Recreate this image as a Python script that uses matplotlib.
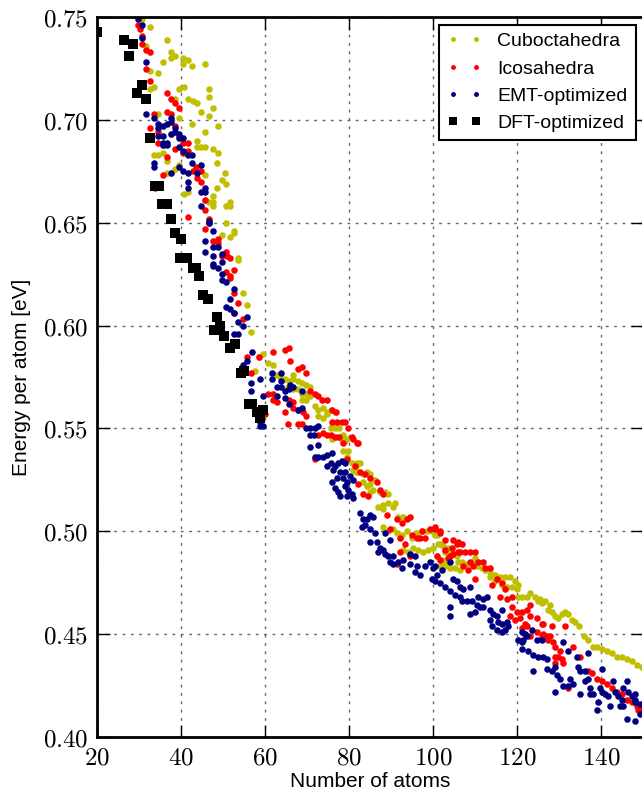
import numpy as np
import matplotlib
matplotlib.use("Agg")
import matplotlib.pyplot as plt

plt.rcParams["mathtext.fontset"] = "cm"
plt.rcParams["font.family"] = ["Liberation Sans", "DejaVu Sans"]

# (number of atoms, energy per atom in eV)
cubo = [
    (30.7, 0.749), (32.6, 0.745), (36.7, 0.739), (31.7, 0.736), (37.6, 0.733), (37.6, 0.730),
    (38.6, 0.731), (40.5, 0.730), (41.7, 0.729), (40.5, 0.727), (42.6, 0.726), (45.7, 0.727),
    (35.7, 0.728), (34.5, 0.723), (32.6, 0.724), (33.6, 0.716), (32.6, 0.715), (39.5, 0.715),
    (40.7, 0.716), (46.7, 0.715), (38.6, 0.710), (41.7, 0.710), (42.9, 0.709), (43.8, 0.708),
    (46.7, 0.711), (44.8, 0.704), (47.6, 0.706), (46.7, 0.702), (39.5, 0.701), (34.5, 0.703),
    (42.6, 0.698), (48.8, 0.697), (37.6, 0.693), (43.8, 0.690), (45.7, 0.694), (43.8, 0.687),
    (44.8, 0.687), (45.7, 0.687), (47.6, 0.686), (48.8, 0.684), (33.6, 0.683), (34.5, 0.683),
    (35.7, 0.684), (39.5, 0.678), (36.7, 0.680), (37.6, 0.674), (36.7, 0.674), (38.6, 0.676),
    (45.7, 0.673), (48.6, 0.679), (50.5, 0.674), (49.8, 0.671), (50.7, 0.669), (48.6, 0.667),
    (51.7, 0.660), (51.7, 0.658), (50.7, 0.658), (47.6, 0.660), (46.7, 0.660), (45.7, 0.661),
    (47.6, 0.658), (50.7, 0.650), (52.6, 0.646), (52.6, 0.645), (49.8, 0.644), (51.7, 0.643),
    (40.7, 0.664), (41.7, 0.665), (47.6, 0.663), (53.6, 0.633), (53.6, 0.632), (54.8, 0.616),
    (55.7, 0.610), (56.7, 0.597), (58.6, 0.585), (59.5, 0.586), (60.7, 0.582), (61.9, 0.581),
    (57.6, 0.578), (62.9, 0.576), (63.6, 0.575), (64.8, 0.574), (65.7, 0.573), (66.7, 0.576),
    (66.7, 0.574), (67.9, 0.573), (68.8, 0.572), (69.8, 0.571), (70.7, 0.570), (65.5, 0.570),
    (66.7, 0.569), (67.9, 0.569), (68.8, 0.567), (69.8, 0.567), (70.7, 0.566), (68.8, 0.564),
    (69.8, 0.564), (71.9, 0.561), (72.6, 0.559), (73.8, 0.560), (74.8, 0.558), (75.7, 0.559),
    (76.7, 0.558), (72.6, 0.556), (73.8, 0.555), (74.8, 0.557), (75.7, 0.550), (76.7, 0.550),
    (77.6, 0.550), (78.6, 0.547), (79.5, 0.545), (78.6, 0.544), (79.8, 0.539), (79.5, 0.536),
    (80.7, 0.533), (81.7, 0.532), (81.7, 0.529), (76.0, 0.551), (76.7, 0.552), (77.1, 0.546),
    (78.3, 0.545), (79.0, 0.544), (76.0, 0.545), (78.6, 0.539), (81.9, 0.533), (82.6, 0.533),
    (81.0, 0.530), (82.1, 0.529), (83.3, 0.528), (84.3, 0.529), (85.0, 0.528), (83.3, 0.524),
    (84.3, 0.522), (85.0, 0.523), (85.7, 0.520), (86.2, 0.525), (87.4, 0.519), (88.6, 0.519),
    (89.3, 0.518), (85.0, 0.519), (88.1, 0.513), (89.3, 0.514), (90.5, 0.512), (91.0, 0.514),
    (86.9, 0.512), (88.1, 0.511), (91.7, 0.507), (92.9, 0.507), (88.1, 0.502), (89.3, 0.500),
    (90.5, 0.501), (91.4, 0.499), (92.6, 0.498), (93.8, 0.500), (95.0, 0.497), (96.2, 0.499),
    (97.4, 0.500), (98.6, 0.500), (99.8, 0.500), (101.0, 0.498), (95.2, 0.492), (96.4, 0.491),
    (97.6, 0.490), (98.8, 0.491), (100.0, 0.492), (101.2, 0.494), (92.9, 0.491), (94.0, 0.490),
    (102.4, 0.493), (103.6, 0.492), (102.1, 0.486), (102.9, 0.485), (104.0, 0.488), (105.2, 0.489),
    (106.0, 0.485), (101.7, 0.483), (102.9, 0.483), (100.5, 0.498), (101.7, 0.494), (102.9, 0.490),
    (103.6, 0.489), (104.5, 0.490), (101.0, 0.488), (103.3, 0.485), (105.7, 0.488), (106.9, 0.485),
    (108.1, 0.484), (109.3, 0.485), (110.0, 0.487), (104.0, 0.482), (105.2, 0.482), (106.4, 0.481),
    (110.5, 0.483), (111.7, 0.482), (112.4, 0.481), (113.6, 0.480), (114.8, 0.479), (115.2, 0.478),
    (116.0, 0.478), (117.1, 0.478), (118.3, 0.478), (119.5, 0.476), (120.2, 0.474), (113.6, 0.478),
    (114.8, 0.476), (116.4, 0.474), (117.6, 0.473), (118.8, 0.473), (120.0, 0.472), (121.2, 0.468),
    (122.4, 0.468), (123.1, 0.470), (124.3, 0.468), (125.5, 0.467), (126.7, 0.466), (127.9, 0.464),
    (129.0, 0.459), (129.8, 0.458), (120.2, 0.468), (125.0, 0.466), (126.0, 0.465), (127.4, 0.462),
    (128.3, 0.461), (130.7, 0.460), (131.4, 0.461), (132.1, 0.460), (133.1, 0.457), (133.8, 0.456),
    (134.8, 0.454), (136.0, 0.449), (136.9, 0.447), (138.1, 0.444), (139.0, 0.444), (140.2, 0.443),
    (141.4, 0.442), (142.6, 0.441), (143.8, 0.439), (145.0, 0.439), (146.2, 0.438), (147.4, 0.437),
    (148.6, 0.435), (149.8, 0.434),
]

ico = [
    (29.8, 0.746), (30.2, 0.744), (30.7, 0.741), (30.7, 0.737), (31.7, 0.734), (32.6, 0.733),
    (31.7, 0.725), (32.6, 0.719), (36.7, 0.713), (37.6, 0.710), (38.6, 0.708), (39.5, 0.706),
    (36.7, 0.704), (37.6, 0.703), (33.6, 0.703), (32.6, 0.696), (34.5, 0.694), (38.6, 0.697),
    (39.5, 0.692), (40.5, 0.689), (41.7, 0.689), (34.5, 0.689), (35.7, 0.688), (38.6, 0.686),
    (41.7, 0.685), (40.5, 0.684), (36.7, 0.682), (43.6, 0.677), (35.7, 0.673), (42.9, 0.675),
    (44.8, 0.675), (43.8, 0.672), (44.8, 0.670), (33.8, 0.667), (41.7, 0.653), (45.7, 0.661),
    (45.7, 0.656), (46.7, 0.652), (46.7, 0.650), (45.7, 0.647), (47.6, 0.641), (48.8, 0.642),
    (48.8, 0.640), (50.7, 0.636), (51.0, 0.634), (49.8, 0.634), (51.7, 0.633), (52.6, 0.627),
    (50.7, 0.626), (51.7, 0.624), (51.7, 0.623), (52.6, 0.616), (53.6, 0.611), (52.6, 0.606),
    (54.8, 0.603), (55.7, 0.585), (56.7, 0.577), (58.6, 0.585), (61.9, 0.587), (64.8, 0.588),
    (65.7, 0.589), (66.0, 0.583), (67.9, 0.579), (68.8, 0.580), (69.8, 0.577), (60.7, 0.567),
    (61.9, 0.567), (61.9, 0.564), (62.9, 0.563), (65.7, 0.564), (66.7, 0.563), (66.7, 0.560),
    (64.8, 0.558), (67.9, 0.559), (69.0, 0.558), (69.8, 0.556), (65.5, 0.552), (67.9, 0.552),
    (68.8, 0.552), (59.5, 0.559), (60.0, 0.557), (70.7, 0.568), (71.9, 0.567), (72.6, 0.566),
    (73.6, 0.564), (74.8, 0.564), (76.0, 0.559), (76.9, 0.558), (72.6, 0.547), (73.8, 0.548),
    (74.8, 0.547), (75.7, 0.547), (76.7, 0.546), (77.6, 0.546), (78.6, 0.543), (81.0, 0.545),
    (82.1, 0.543), (71.9, 0.535), (76.0, 0.553), (77.1, 0.553), (78.3, 0.553), (79.0, 0.553),
    (79.8, 0.550), (80.7, 0.546), (81.9, 0.543), (79.5, 0.535), (81.4, 0.532), (82.6, 0.529),
    (83.8, 0.528), (85.0, 0.526), (82.1, 0.523), (83.3, 0.518), (84.5, 0.517), (86.7, 0.524),
    (87.4, 0.520), (88.1, 0.518), (89.0, 0.508), (91.4, 0.506), (92.6, 0.504), (93.8, 0.506),
    (94.5, 0.507), (89.8, 0.501), (92.1, 0.497), (93.3, 0.494), (95.0, 0.498), (96.2, 0.497),
    (96.9, 0.497), (98.1, 0.497), (99.3, 0.501), (100.5, 0.501), (97.4, 0.500), (101.7, 0.500),
    (102.9, 0.496), (92.1, 0.490), (94.5, 0.488), (91.4, 0.484), (101.0, 0.488), (101.7, 0.486),
    (103.6, 0.487), (104.8, 0.489), (106.0, 0.490), (105.7, 0.494), (104.5, 0.492), (100.5, 0.502),
    (101.7, 0.499), (104.8, 0.496), (106.0, 0.495), (106.9, 0.494), (102.9, 0.491), (104.0, 0.488),
    (106.4, 0.490), (107.6, 0.490), (108.8, 0.490), (110.0, 0.490), (108.8, 0.485), (109.5, 0.483),
    (110.7, 0.485), (111.9, 0.485), (107.1, 0.483), (108.3, 0.481), (112.4, 0.482), (113.6, 0.482),
    (110.0, 0.477), (114.0, 0.474), (115.2, 0.477), (116.4, 0.475), (117.1, 0.472), (116.0, 0.468),
    (117.6, 0.467), (118.8, 0.468), (118.8, 0.463), (120.0, 0.461), (121.2, 0.461), (122.4, 0.462),
    (123.1, 0.464), (118.3, 0.459), (119.5, 0.457), (120.7, 0.458), (123.1, 0.459), (124.8, 0.458),
    (126.2, 0.455), (122.4, 0.454), (121.9, 0.450), (124.8, 0.451), (126.0, 0.449), (127.1, 0.449),
    (127.4, 0.447), (128.6, 0.446), (121.9, 0.455), (121.2, 0.453), (123.1, 0.449), (126.0, 0.455),
    (128.3, 0.454), (131.4, 0.454), (126.2, 0.450), (127.9, 0.449), (129.0, 0.444), (130.2, 0.442),
    (133.3, 0.444), (129.0, 0.439), (129.8, 0.439), (130.7, 0.438), (131.0, 0.436), (129.0, 0.436),
    (135.0, 0.439), (136.9, 0.432), (137.9, 0.431), (132.1, 0.424), (139.0, 0.428), (140.2, 0.427),
    (141.4, 0.426), (142.6, 0.424), (143.8, 0.422), (145.0, 0.421), (146.2, 0.418), (147.4, 0.417),
    (148.6, 0.415), (149.8, 0.414), (148.8, 0.413),
]

emt = [
    (29.8, 0.749), (30.7, 0.746), (30.7, 0.740), (31.7, 0.728), (31.7, 0.703), (33.6, 0.701),
    (37.6, 0.701), (37.6, 0.699), (34.5, 0.698), (35.7, 0.697), (36.7, 0.698), (34.5, 0.696),
    (34.5, 0.692), (35.7, 0.692), (35.7, 0.689), (36.7, 0.689), (37.6, 0.693), (38.6, 0.694),
    (38.6, 0.696), (39.5, 0.693), (35.7, 0.688), (36.7, 0.688), (39.5, 0.691), (40.5, 0.691),
    (39.5, 0.687), (40.5, 0.685), (41.7, 0.683), (33.6, 0.679), (33.6, 0.677), (37.6, 0.674),
    (39.5, 0.677), (40.5, 0.675), (41.7, 0.674), (42.6, 0.683), (42.6, 0.679), (44.8, 0.678),
    (43.8, 0.674), (41.7, 0.670), (41.7, 0.667), (44.8, 0.665), (45.7, 0.665), (45.7, 0.667),
    (44.8, 0.658), (46.7, 0.651), (46.7, 0.650), (47.6, 0.646), (45.7, 0.641), (47.6, 0.638),
    (48.8, 0.638), (45.7, 0.636), (47.6, 0.634), (49.8, 0.635), (47.6, 0.630), (47.6, 0.629),
    (48.8, 0.628), (49.8, 0.631), (49.8, 0.625), (50.7, 0.621), (49.8, 0.622), (52.6, 0.618),
    (51.7, 0.613), (50.7, 0.609), (51.7, 0.608), (52.6, 0.606), (53.6, 0.602), (55.7, 0.604),
    (54.8, 0.600), (53.6, 0.596), (52.6, 0.596), (55.7, 0.583), (54.8, 0.581), (56.9, 0.587),
    (56.7, 0.572), (56.7, 0.568), (58.8, 0.574), (59.5, 0.566), (58.8, 0.553), (59.5, 0.551),
    (58.8, 0.551), (61.7, 0.577), (61.7, 0.574), (62.9, 0.570), (63.8, 0.577), (63.8, 0.573),
    (63.8, 0.570), (64.8, 0.568), (62.9, 0.566), (64.8, 0.565), (65.7, 0.569), (66.0, 0.571),
    (66.7, 0.570), (67.9, 0.559), (68.8, 0.560), (65.7, 0.562), (68.8, 0.568), (69.8, 0.550),
    (70.7, 0.550), (71.9, 0.550), (70.7, 0.547), (71.7, 0.547), (72.6, 0.551), (70.7, 0.541),
    (72.6, 0.542), (72.6, 0.536), (73.8, 0.536), (74.8, 0.537), (71.9, 0.536), (74.8, 0.532),
    (75.7, 0.533), (76.7, 0.532), (77.9, 0.529), (79.0, 0.529), (77.1, 0.526), (76.0, 0.538),
    (77.4, 0.533), (78.3, 0.534), (79.0, 0.533), (76.2, 0.530), (76.0, 0.524), (76.7, 0.521),
    (77.4, 0.519), (78.6, 0.526), (79.5, 0.524), (80.2, 0.527), (81.0, 0.525), (79.0, 0.522),
    (79.8, 0.520), (80.7, 0.518), (77.9, 0.517), (79.5, 0.517), (81.0, 0.516), (82.6, 0.509),
    (83.3, 0.506), (84.3, 0.506), (85.0, 0.508), (85.7, 0.507), (83.1, 0.502), (83.8, 0.503),
    (85.0, 0.501), (86.2, 0.499), (85.0, 0.495), (86.7, 0.495), (87.4, 0.492), (88.1, 0.491),
    (88.6, 0.499), (89.8, 0.496), (86.9, 0.490), (88.6, 0.489), (89.3, 0.488), (90.5, 0.488),
    (89.8, 0.485), (90.5, 0.484), (91.7, 0.485), (92.9, 0.486), (92.6, 0.482), (94.5, 0.489),
    (95.7, 0.488), (94.5, 0.484), (96.2, 0.483), (95.7, 0.480), (96.9, 0.479), (98.1, 0.483),
    (99.3, 0.485), (100.5, 0.483), (102.1, 0.481), (104.0, 0.485), (100.0, 0.482), (101.0, 0.479),
    (99.8, 0.477), (100.5, 0.476), (101.7, 0.475), (102.9, 0.473), (104.0, 0.471), (104.8, 0.477),
    (105.7, 0.476), (106.4, 0.473), (107.1, 0.472), (108.8, 0.473), (105.2, 0.469), (106.4, 0.468),
    (106.9, 0.466), (108.1, 0.466), (109.3, 0.466), (110.7, 0.468), (111.9, 0.467), (112.9, 0.468),
    (104.0, 0.463), (104.0, 0.459), (110.5, 0.464), (111.2, 0.463), (111.9, 0.463), (108.8, 0.460),
    (110.0, 0.461), (113.6, 0.462), (114.3, 0.460), (115.2, 0.459), (116.4, 0.462), (115.5, 0.456),
    (116.4, 0.455), (113.6, 0.457), (114.0, 0.454), (115.2, 0.452), (116.4, 0.451), (117.1, 0.452),
    (117.6, 0.456), (117.9, 0.454), (120.2, 0.447), (121.2, 0.446), (122.4, 0.449), (123.6, 0.452),
    (124.8, 0.447), (126.0, 0.447), (121.2, 0.451), (121.9, 0.450), (121.4, 0.447), (121.2, 0.443),
    (122.6, 0.442), (123.8, 0.440), (125.0, 0.439), (126.2, 0.439), (127.1, 0.438), (123.8, 0.432),
    (127.1, 0.433), (128.3, 0.432), (129.0, 0.434), (129.5, 0.430), (130.2, 0.428), (131.0, 0.446),
    (132.1, 0.442), (131.0, 0.425), (132.1, 0.425), (132.6, 0.428), (133.3, 0.426), (129.0, 0.422),
    (134.3, 0.439), (134.5, 0.434), (135.0, 0.432), (136.2, 0.432), (135.0, 0.421), (136.2, 0.427),
    (136.9, 0.428), (137.4, 0.424), (138.1, 0.421), (137.4, 0.421), (136.9, 0.441), (140.2, 0.433),
    (139.8, 0.424), (140.2, 0.422), (139.3, 0.417), (139.0, 0.413), (140.9, 0.421), (141.7, 0.420),
    (142.1, 0.415), (142.9, 0.427), (143.3, 0.422), (144.0, 0.420), (145.0, 0.418), (146.2, 0.427),
    (145.2, 0.424), (146.4, 0.422), (147.4, 0.420), (144.5, 0.415), (145.2, 0.415), (148.1, 0.421),
    (148.1, 0.418), (148.1, 0.417), (149.3, 0.416), (146.2, 0.409), (148.1, 0.408), (149.3, 0.411),
]

dft = [
    (20.0, 0.743), (26.4, 0.739), (28.6, 0.737), (27.6, 0.731), (29.5, 0.713), (30.7, 0.717),
    (31.7, 0.710), (32.6, 0.691), (33.9, 0.668), (34.8, 0.668), (35.5, 0.659), (36.7, 0.659),
    (37.6, 0.652), (38.6, 0.645), (40.0, 0.642), (39.8, 0.633), (41.4, 0.633), (42.9, 0.628),
    (43.6, 0.628), (44.2, 0.624), (45.3, 0.615), (46.4, 0.613), (48.6, 0.604), (47.9, 0.598),
    (49.3, 0.600), (50.2, 0.595), (51.6, 0.589), (52.8, 0.591), (54.3, 0.577), (55.0, 0.578),
    (56.2, 0.562), (56.9, 0.562), (58.1, 0.558), (59.6, 0.559), (58.8, 0.555),
]

xticks = [20, 40, 60, 80, 100, 120, 140]
yticks = [0.40, 0.45, 0.50, 0.55, 0.60, 0.65, 0.70, 0.75]

fig = plt.figure(figsize=(6.42, 7.92), dpi=100)
ax = fig.add_axes([0.151, 0.0694, 0.851, 0.909])

series = [
    (cubo, "Cuboctahedra", "o", "#bfbf00", 4.7),
    (ico, "Icosahedra", "o", "#ff0000", 4.7),
    (emt, "EMT-optimized", "o", "#000080", 4.7),
    (dft, "DFT-optimized", "s", "#000000", 7.5),
]
for data, label, marker, color, ms in series:
    n, e = np.array(data).T
    ax.plot(n, e, ls="none", marker=marker, ms=ms, color=color, mec=color,
            mew=0, label=label)

ax.set_xlim(20, 150)
ax.set_ylim(0.40, 0.75)
ax.set_xticks(xticks)
ax.set_yticks(yticks)
ax.set_xticklabels([f"${t}$" for t in xticks])
ax.set_yticklabels([f"${t:.2f}$" for t in yticks])
ax.tick_params(direction="in", length=9, width=1, labelsize=18, pad=6,
               top=True, right=True)
ax.grid(True, color="0.4", linestyle=(0, (2, 4)), linewidth=1)
for sp in ax.spines.values():
    sp.set_linewidth(2)

ax.set_xlabel("Number of atoms", fontsize=15, labelpad=2)
ax.set_ylabel("Energy per atom [eV]", fontsize=15, labelpad=9)

leg = ax.legend(loc="upper right", numpoints=2, fontsize=14, markerscale=0.75,
                fancybox=False, framealpha=1, edgecolor="black",
                borderaxespad=0.4, handlelength=1.8, labelspacing=0.5)
leg.get_frame().set_linewidth(1.5)

fig.savefig("out.png", dpi=100)
